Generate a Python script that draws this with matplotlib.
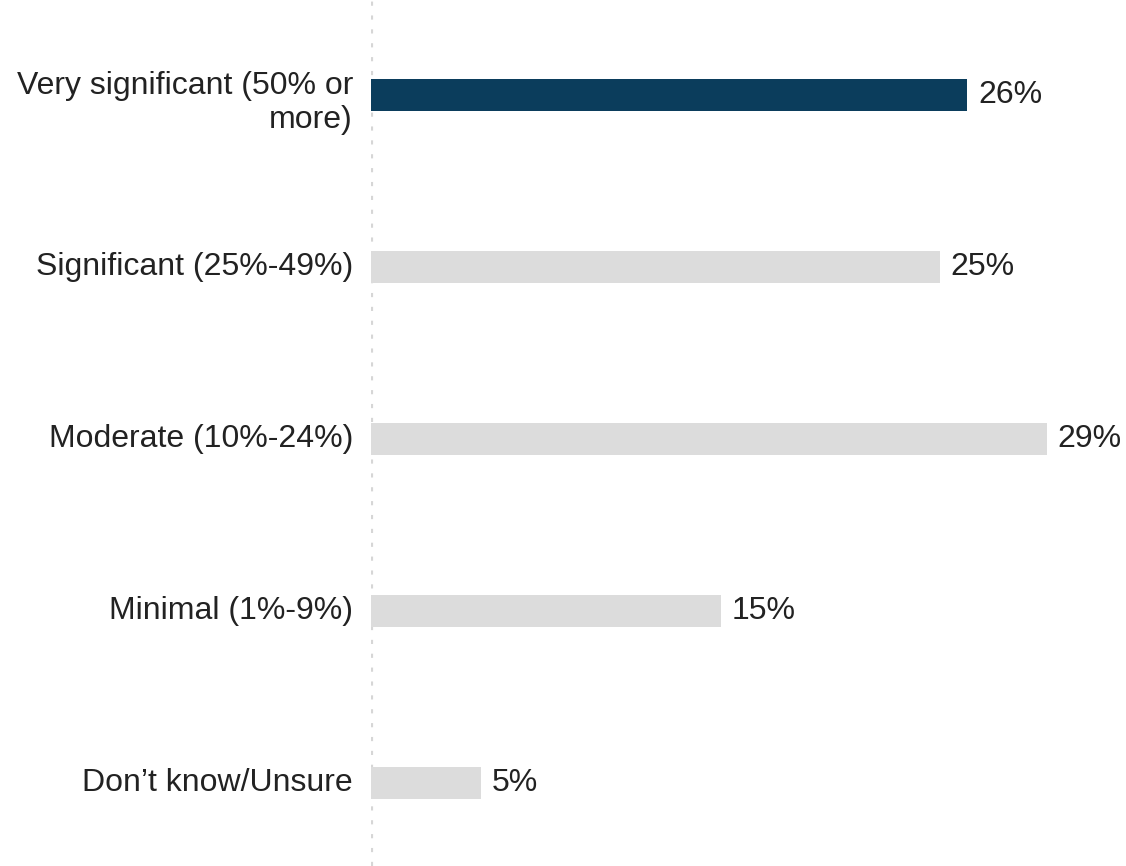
import matplotlib.pyplot as plt
import numpy as np

# dados
categorias = ['Very significant (50% or\nmore)', 'Significant (25%-49%)', 'Moderate (10%-24%)',
              'Minimal (1%-9%)', 'Don\u2019t know/Unsure']
valores = [25.6, 24.4, 29.0, 15.0, 4.7]
rotulos = ['26%', '25%', '29%', '15%', '5%']
cores = ['#0b3d5c', '#dcdcdc', '#dcdcdc', '#dcdcdc', '#dcdcdc']

plt.rcParams['font.family'] = ['Liberation Sans', 'DejaVu Sans']

fig = plt.figure(figsize=(11.26, 8.66), dpi=100)
ax = fig.add_axes([371/1126, 0, 1 - 371/1126, 1])

y = np.arange(len(categorias))
ax.barh(y, valores, height=0.186, color=cores)

# rotulos de valor
for yi, v, r in zip(y, valores, rotulos):
    ax.text(v + 0.47, yi, r, va='center', ha='left', fontsize=23, color='#222222')

# rotulos das categorias (o de duas linhas fica um pouco mais abaixo)
for yi, c in zip(y, categorias):
    desloc = 0.045 if '\n' in c else 0
    ax.text(-0.77, yi + desloc, c, va='center', ha='right', fontsize=23, color='#222222',
            linespacing=1.17)

ax.set_xlim(0, (1126 - 371) / 23.3)
ax.set_ylim(4 + 0.483, -0.552)
ax.axvline(0, color='#d6d6d6', lw=3, linestyle=(0, (1, 2.33)), zorder=0)

ax.set_xticks([])
ax.set_yticks([])
for s in ax.spines.values():
    s.set_visible(False)

fig.savefig('out.png', dpi=100)
